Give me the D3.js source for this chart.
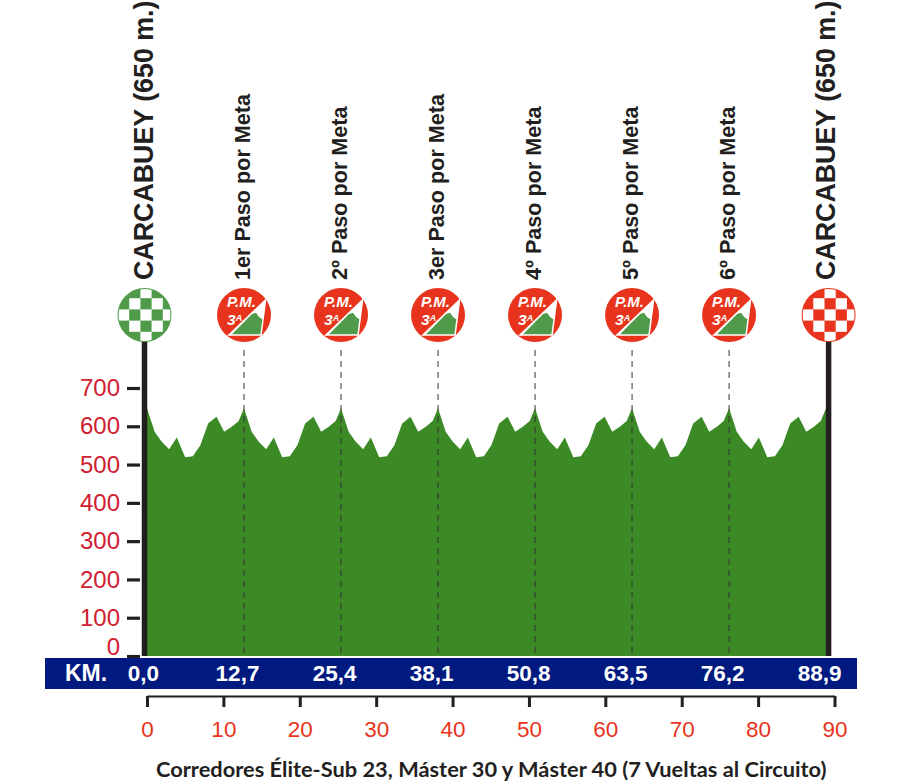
<!DOCTYPE html>
<html><head><meta charset="utf-8">
<script src="https://cdn.jsdelivr.net/npm/d3@7"></script>
<style>html,body{margin:0;padding:0;background:#fff}svg{display:block}</style>
</head><body><svg id="c" width="900" height="784"></svg>
<script>
const profileKm = [0,1.0,1.9,2.9,3.9,5.0,6.0,7.0,8.0,9.1,10.1,11.1,12.0,
 12.7,13.7,14.6,15.6,16.6,17.7,18.7,19.7,20.7,21.8,22.8,23.8,24.7,
 25.4,26.4,27.3,28.3,29.3,30.4,31.4,32.4,33.4,34.5,35.5,36.5,37.4,
 38.1,39.1,40.0,41.0,42.0,43.1,44.1,45.1,46.1,47.2,48.2,49.2,50.1,
 50.8,51.8,52.7,53.7,54.7,55.8,56.8,57.8,58.8,59.9,60.9,61.9,62.8,
 63.5,64.5,65.4,66.4,67.4,68.5,69.5,70.5,71.5,72.6,73.6,74.6,75.5,
 76.2,77.2,78.1,79.1,80.1,81.2,82.2,83.2,84.2,85.3,86.3,87.3,88.2,
 88.9];
const profileElev = [647,586,560,540,571,519,522,551,607,625,586,599,614,
 647,586,560,540,571,519,522,551,607,625,586,599,614,
 647,586,560,540,571,519,522,551,607,625,586,599,614,
 647,586,560,540,571,519,522,551,607,625,586,599,614,
 647,586,560,540,571,519,522,551,607,625,586,599,614,
 647,586,560,540,571,519,522,551,607,625,586,599,614,
 647,586,560,540,571,519,522,551,607,625,586,599,614,
 647];
const passKm = [12.7,25.4,38.1,50.8,63.5,76.2];
const passLabels = ["1er Paso por Meta","2º Paso por Meta","3er Paso por Meta","4º Paso por Meta","5º Paso por Meta","6º Paso por Meta"];
const endKm = [0,88.9];
const bandLabels = ["0,0","12,7","25,4","38,1","50,8","63,5","76,2","88,9"];
const yTicks = [0,100,200,300,400,500,600,700];
const xTicks = [0,10,20,30,40,50,60,70,80,90];
const endTitle = "CARCABUEY (650 m.)";
const caption = "Corredores Élite-Sub 23, Máster 30 y Máster 40 (7 Vueltas al Circuito)";

const svg = d3.select("#c");
const x = d3.scaleLinear().domain([0,90]).range([147,834.5]);
const y = d3.scaleLinear().domain([0,700]).range([656,388]);
const ARIAL = "'Liberation Sans',Arial,sans-serif";
const pts = profileKm.map((k,i)=>[k,profileElev[i]]);

// area
svg.append("path").datum(pts)
  .attr("d", d3.area().x(d=>x(d[0])).y0(y(0)).y1(d=>y(d[1])))
  .attr("fill","#3b8a26");

// dashed guide lines
svg.selectAll(".guide").data(passKm).join("line").attr("class","guide")
  .attr("x1",d=>x(d)).attr("x2",d=>x(d)).attr("y1",350).attr("y2",y(0))
  .attr("stroke","#333").attr("stroke-width",1).attr("stroke-dasharray","6 5");

// poles
svg.selectAll(".pole").data(endKm).join("line").attr("class","pole")
  .attr("x1",(d,i)=>x(d)+(i?2.5:-2.5)).attr("x2",(d,i)=>x(d)+(i?2.5:-2.5))
  .attr("y1",335).attr("y2",y(0))
  .attr("stroke","#231f20").attr("stroke-width",5.5);

// y axis
const yAxis = svg.append("g").attr("transform","translate(140,0)")
  .call(d3.axisLeft(y).tickValues(yTicks).tickSize(13).tickPadding(7).tickFormat(d3.format("d")));
yAxis.select(".domain").remove();
yAxis.selectAll("line").attr("stroke","#231f20").attr("stroke-width",3.2);
yAxis.selectAll("text").attr("fill","#cf2030").attr("font-family",ARIAL).attr("font-size",24);
yAxis.selectAll("text").filter(d=>d===0).attr("dy","-0.06em");

// band
svg.append("rect").attr("x",45).attr("y",658).attr("width",812).attr("height",31).attr("fill","#001a80");
svg.append("text").text("KM.").attr("x",65).attr("y",681).attr("fill","#fff")
  .attr("font-family",ARIAL).attr("font-weight","bold").attr("font-size",23);
svg.selectAll(".bl").data(bandLabels).join("text").attr("class","bl").text(d=>d)
  .attr("x",(d,i)=>(i===0?x(endKm[0]):i===7?x(endKm[1]):x(passKm[i-1]))-(i===0?3.5:6.5))
  .attr("y",681).attr("text-anchor","middle").attr("fill","#fff")
  .attr("font-family",ARIAL).attr("font-weight","bold").attr("font-size",22.5);

// x axis
const xAxis = svg.append("g").attr("transform","translate(0,696)")
  .call(d3.axisBottom(x).tickValues(xTicks).tickSize(11).tickSizeOuter(0).tickPadding(14).tickFormat(d3.format("d")));
xAxis.select(".domain").attr("stroke","#231f20").attr("stroke-width",2);
xAxis.selectAll("line").attr("stroke","#231f20").attr("stroke-width",3);
xAxis.selectAll("text").attr("fill","#e8341c").attr("font-family",ARIAL).attr("font-size",22.5);

// checker badges
const defs = svg.append("defs");
const R = 27, cell = 11.2;
[0,1].forEach(i=>{
  defs.append("clipPath").attr("id","clip"+i).append("circle").attr("r",R-1);
  const col = i? "#e8341c":"#4f9b4a";
  const g = svg.append("g").attr("transform",`translate(${x(endKm[i])+(i?2.5:-2.5)},315)`);
  g.append("circle").attr("r",R).attr("fill",col);
  const cg = g.append("g").attr("clip-path",`url(#clip${i})`);
  d3.range(-2,3).forEach(r=>d3.range(-2,3).forEach(c=>{
    if((r+c)%2===0 && Math.abs(r)+Math.abs(c)<=2) cg.append("rect").attr("x",c*cell-cell/2+1.5).attr("y",r*cell-cell/2)
      .attr("width",cell).attr("height",cell).attr("fill","#fff");
  }));
});

// P.M. badges
const pm = svg.selectAll(".pm").data(passKm).join("g").attr("class","pm")
  .attr("transform",d=>`translate(${x(d)},315)`);
pm.append("circle").attr("r",R).attr("fill","#e8341c");
pm.append("path").attr("d","M-17,20.7L17.7,20.7L22.5,-17Z").attr("fill","#fff");
pm.append("path").attr("d","M-12,19.3L16.3,19.3L18.3,4.3L15,2L12,-2.3L8,-1Z").attr("fill","#4f9b4a");
pm.append("text").text("P.M.").attr("x",-17).attr("y",-8.5)
  .attr("fill","#fff").attr("font-family",ARIAL).attr("font-weight","bold").attr("font-style","italic").attr("font-size",15);
const tier = pm.append("text").attr("x",-17).attr("y",10)
  .attr("fill","#fff").attr("font-family",ARIAL).attr("font-weight","bold").attr("font-style","italic").attr("font-size",15.5);
tier.append("tspan").text("3");
tier.append("tspan").text("A").attr("font-size",9).attr("dy",-4);

// vertical labels
svg.selectAll(".et").data(endKm).join("text").attr("class","et").text(endTitle)
  .attr("transform",(d,i)=>`translate(${x(d)+(i?9:6)},280) rotate(-90)`)
  .attr("fill","#231f20").attr("font-family",ARIAL).attr("font-weight","bold").attr("font-size",26.8);
svg.selectAll(".pt").data(passKm).join("text").attr("class","pt").text((d,i)=>passLabels[i])
  .attr("transform",d=>`translate(${x(d)+6},280) rotate(-90)`)
  .attr("fill","#231f20").attr("font-family",ARIAL).attr("font-weight","bold").attr("font-size",21.6);

// caption
svg.append("text").text(caption).attr("x",156).attr("y",777).attr("fill","#231f20")
  .attr("font-family","Lato,sans-serif").attr("font-weight","bold").attr("font-size",21.8);
</script></body></html>
